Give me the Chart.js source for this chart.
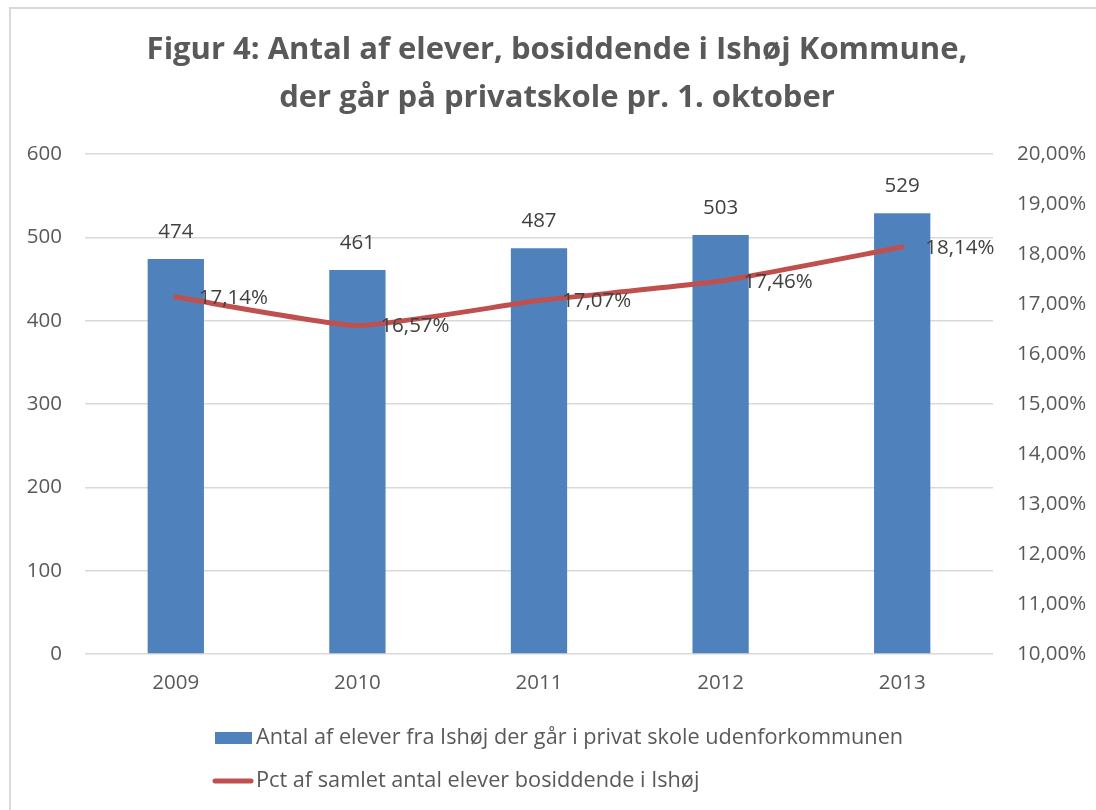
<!DOCTYPE html>
<html>
<head>
<meta charset="utf-8">
<script src="https://cdn.jsdelivr.net/npm/chart.js@4/dist/chart.umd.min.js"></script>
<style>
  html, body { margin: 0; padding: 0; background: #ffffff; overflow: hidden; }
  #wrap { position: absolute; left: 0; top: 0; width: 1096px; height: 810px; }
  #frame { position: absolute; left: 9px; top: 7px; width: 1100px; height: 820px; border: 2px solid #d9d9d9; box-sizing: border-box; pointer-events: none; }
</style>
</head>
<body>
<div id="wrap">
  <canvas id="c" width="1096" height="810"></canvas>
  <div id="frame"></div>
</div>
<script>
const titleLines = ['Figur 4: Antal af elever, bosiddende i Ishøj Kommune,', 'der går på privatskole pr. 1. oktober'];
const years = ['2009', '2010', '2011', '2012', '2013'];
const pupilCounts = [474, 461, 487, 503, 529];
const pupilShare = [17.14, 16.57, 17.07, 17.46, 18.14];
const shareLabels = ['17,14%', '16,57%', '17,07%', '17,46%', '18,14%'];
const leftTicks = [0, 100, 200, 300, 400, 500, 600];
const rightTickLabels = ['10,00%', '11,00%', '12,00%', '13,00%', '14,00%', '15,00%', '16,00%', '17,00%', '18,00%', '19,00%', '20,00%'];
const seriesNames = ['Antal af elever fra Ishøj der går i privat skole udenforkommunen', 'Pct af samlet antal elever bosiddende i Ishøj'];

const FONT = 'Open Sans';
const BLUE = '#4F81BD';
const RED = '#C0504D';

const labelPlugin = {
  id: 'labelsAndLegend',
  afterDatasetsDraw(chart) {
    const ctx = chart.ctx;
    ctx.save();
    ctx.font = '20.5px ' + FONT;
    ctx.fillStyle = '#404040';
    ctx.textBaseline = 'middle';
    const barMeta = chart.getDatasetMeta(0);
    barMeta.data.forEach((el, i) => {
      ctx.textAlign = 'center';
      ctx.fillText(String(pupilCounts[i]), el.x, el.y - 27);
    });
    const lineMeta = chart.getDatasetMeta(1);
    lineMeta.data.forEach((el, i) => {
      ctx.textAlign = 'left';
      ctx.fillText(shareLabels[i], el.x + 23, el.y + 1);
    });
    ctx.fillStyle = BLUE;
    ctx.fillRect(215, 732, 37, 12);
    ctx.strokeStyle = RED;
    ctx.lineWidth = 5;
    ctx.lineCap = 'round';
    ctx.beginPath();
    ctx.moveTo(215, 781);
    ctx.lineTo(251, 781);
    ctx.stroke();
    ctx.font = '21.7px ' + FONT;
    ctx.fillStyle = '#595959';
    ctx.textAlign = 'left';
    ctx.fillText(seriesNames[0], 256, 738);
    ctx.fillText(seriesNames[1], 256, 781);
    ctx.restore();
  }
};

new Chart(document.getElementById('c'), {
  data: {
    labels: years,
    datasets: [
      {
        type: 'bar',
        label: seriesNames[0],
        data: pupilCounts,
        backgroundColor: BLUE,
        yAxisID: 'y',
        barPercentage: 0.31,
        categoryPercentage: 1,
        order: 2
      },
      {
        type: 'line',
        label: seriesNames[1],
        data: pupilShare,
        borderColor: RED,
        borderWidth: 5,
        borderCapStyle: 'round',
        borderJoinStyle: 'round',
        pointRadius: 0,
        tension: 0.15,
        yAxisID: 'y1',
        order: 1
      }
    ]
  },
  options: {
    responsive: false,
    animation: false,
    layout: { padding: { left: 18, right: 0, top: 0, bottom: 96 } },
    plugins: {
      legend: { display: false },
      tooltip: { enabled: false },
      title: {
        display: true,
        text: titleLines,
        color: '#595959',
        font: { family: FONT, size: 31, weight: 'bold', lineHeight: 1.55 },
        padding: { top: 26, bottom: 32 }
      }
    },
    scales: {
      x: {
        grid: { display: false, drawTicks: false },
        border: { display: false },
        ticks: { color: '#595959', font: { family: FONT, size: 20.5 }, padding: 17 },
        afterFit(s) { s.height = 60; }
      },
      y: {
        position: 'left',
        min: 0, max: 600,
        afterBuildTicks(s) { s.ticks = leftTicks.map(v => ({ value: v })); },
        grid: { color: '#d9d9d9', lineWidth: 1.5, drawTicks: false },
        border: { display: false },
        ticks: { color: '#595959', font: { family: FONT, size: 20.5 }, padding: 23 },
        afterFit(s) { s.width = 67; }
      },
      y1: {
        position: 'right',
        min: 10, max: 20,
        afterBuildTicks(s) { s.ticks = rightTickLabels.map((t, i) => ({ value: 10 + i })); },
        grid: { display: false, drawTicks: false },
        border: { display: false },
        ticks: {
          color: '#595959', font: { family: FONT, size: 20.5 }, padding: 24,
          callback: (v, i) => rightTickLabels[i]
        },
        afterFit(s) { s.width = 103; }
      }
    }
  },
  plugins: [labelPlugin]
});
</script>
</body>
</html>
